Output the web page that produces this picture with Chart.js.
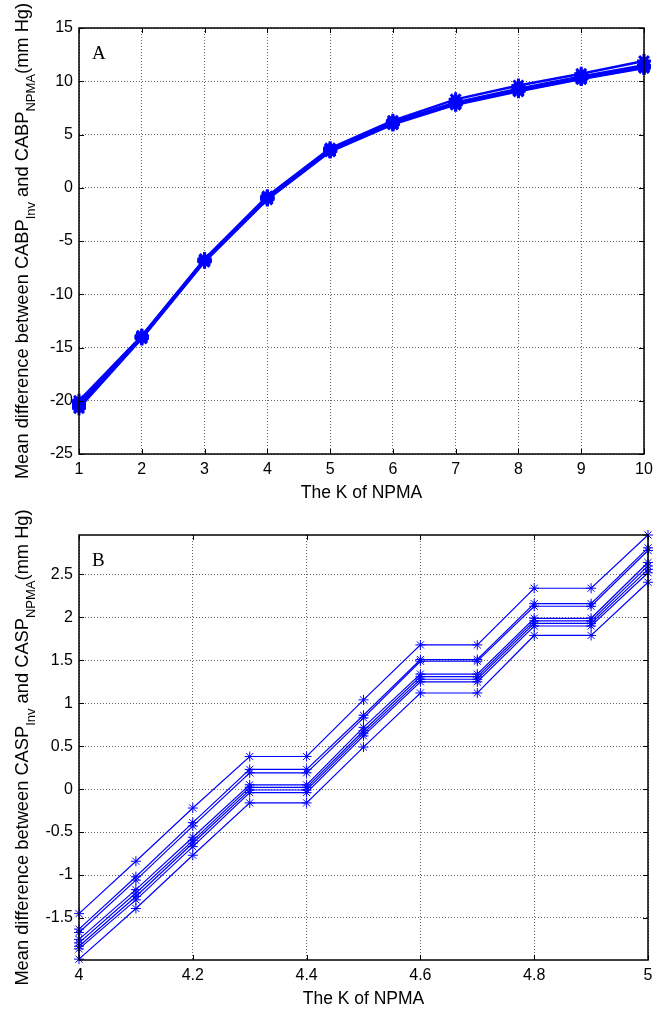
<!DOCTYPE html>
<html>
<head>
<meta charset="utf-8">
<script src="https://cdn.jsdelivr.net/npm/chart.js@4/dist/chart.umd.min.js"></script>
<style>
  body { margin: 0; background: #fff; }
  .box { position: absolute; left: 0; width: 654px; }
</style>
</head>
<body>
<div class="box" style="top:0;height:507px"><canvas id="chartA" width="654" height="507"></canvas></div>
<div class="box" style="top:507px;height:506px"><canvas id="chartB" width="654" height="506"></canvas></div>
<script>
// panel A: K = 1..10
const kA = [1, 2, 3, 4, 5, 6, 7, 8, 9, 10];
const seriesA = [
  [-20.0, -13.9, -6.7, -0.8, 3.7, 6.3, 8.3, 9.6, 10.7, 11.9],
  [-20.2, -13.95, -6.75, -0.9, 3.6, 6.15, 8.0, 9.3, 10.45, 11.5],
  [-20.3, -14.0, -6.8, -0.95, 3.55, 6.1, 7.95, 9.2, 10.35, 11.4],
  [-20.4, -14.05, -6.85, -1.0, 3.5, 6.05, 7.9, 9.15, 10.3, 11.35],
  [-20.5, -14.1, -6.9, -1.05, 3.45, 6.0, 7.85, 9.1, 10.25, 11.3],
  [-20.7, -14.15, -6.95, -1.1, 3.4, 5.95, 7.8, 9.05, 10.2, 11.25]
];
const ticksA = { xMin: 1, xMax: 10, xStep: 1, yMin: -25, yMax: 15, yStep: 5 };

// panel B: K = 4..5
const kB = [4, 4.1, 4.2, 4.3, 4.4, 4.5, 4.6, 4.7, 4.8, 4.9, 5];
const seriesB = [
  [-1.45, -0.84, -0.22, 0.38, 0.38, 1.04, 1.68, 1.68, 2.34, 2.34, 2.96],
  [-1.63, -1.02, -0.39, 0.23, 0.23, 0.86, 1.51, 1.51, 2.16, 2.16, 2.81],
  [-1.67, -1.06, -0.43, 0.19, 0.19, 0.83, 1.49, 1.49, 2.13, 2.13, 2.78],
  [-1.75, -1.17, -0.56, 0.05, 0.05, 0.72, 1.34, 1.34, 1.99, 1.99, 2.64],
  [-1.79, -1.21, -0.60, 0.02, 0.02, 0.68, 1.31, 1.31, 1.96, 1.96, 2.60],
  [-1.83, -1.25, -0.63, -0.01, -0.01, 0.65, 1.28, 1.28, 1.93, 1.93, 2.56],
  [-1.86, -1.29, -0.67, -0.04, -0.04, 0.62, 1.25, 1.25, 1.90, 1.90, 2.52],
  [-1.98, -1.39, -0.77, -0.16, -0.16, 0.49, 1.12, 1.12, 1.79, 1.79, 2.41]
];
const ticksB = { xMin: 4, xMax: 5, xStep: 0.2, yMin: -1.99, yMax: 2.96, yStep: 0.5 };

const FONT = '"Liberation Sans", Arial, sans-serif';
const fmt = v => String(Number(v.toFixed(2)));

// box, inward ticks, panel letter and axis titles (with subscripts)
const framePlugin = {
  id: 'frame',
  afterDraw(chart, args, opts) {
    const ctx = chart.ctx;
    const a = chart.chartArea;
    const xs = chart.scales.x, ys = chart.scales.y;
    ctx.save();
    ctx.strokeStyle = '#000';
    ctx.lineWidth = 1;
    ctx.beginPath();
    xs.ticks.forEach(t => {
      const px = Math.round(xs.getPixelForValue(t.value)) + 0.5;
      ctx.moveTo(px, a.bottom); ctx.lineTo(px, a.bottom - 5);
      ctx.moveTo(px, a.top); ctx.lineTo(px, a.top + 5);
    });
    ys.ticks.forEach(t => {
      const py = Math.round(ys.getPixelForValue(t.value)) + 0.5;
      ctx.moveTo(a.left, py); ctx.lineTo(a.left + 5, py);
      ctx.moveTo(a.right, py); ctx.lineTo(a.right - 5, py);
    });
    ctx.stroke();
    ctx.lineWidth = 1.5;
    ctx.strokeRect(a.left, a.top, a.right - a.left, a.bottom - a.top);

    ctx.fillStyle = '#000';
    ctx.font = '19px "Liberation Serif", "Times New Roman", serif';
    ctx.textAlign = 'left';
    ctx.textBaseline = 'alphabetic';
    ctx.fillText(opts.letter, a.left + 13, a.top + 31);

    // x title
    ctx.font = '17.5px ' + FONT;
    ctx.textAlign = 'center';
    ctx.fillText(opts.xTitle, (a.left + a.right) / 2, a.bottom + 44);

    // y title, rotated, with subscripts
    const big = '18.3px ' + FONT, small = '13px ' + FONT;
    let total = 0;
    const parts = opts.yTitle.map(p => {
      ctx.font = p.sub ? small : big;
      const w = ctx.measureText(p.t).width;
      total += w;
      return { t: p.t, sub: p.sub, w };
    });
    ctx.translate(28, (a.top + a.bottom) / 2);
    ctx.rotate(-Math.PI / 2);
    ctx.textAlign = 'left';
    let x = -total / 2;
    parts.forEach(p => {
      ctx.font = p.sub ? small : big;
      ctx.fillText(p.t, x, p.sub ? 7 : 0);
      x += p.w;
    });
    ctx.restore();
  }
};

function makeChart(id, k, series, tk, style, frame, padRight) {
  const datasets = series.map(vals => ({
    data: k.map((v, i) => ({ x: v, y: vals[i] })),
    borderColor: '#0000ff',
    backgroundColor: '#0000ff',
    borderWidth: style.line,
    pointStyle: 'star',
    pointRadius: style.radius,
    pointBorderWidth: style.marker,
    pointBorderColor: '#0000ff',
    tension: 0,
    clip: false
  }));
  const grid = { color: '#666', lineWidth: 1, drawTicks: false };
  const border = { display: false, dash: [1, 2] };
  return new Chart(document.getElementById(id), {
    type: 'line',
    data: { datasets },
    options: {
      responsive: false,
      animation: false,
      layout: { padding: { left: 0, top: 28, right: padRight, bottom: 0 } },
      plugins: { legend: { display: false }, tooltip: { enabled: false }, frame },
      scales: {
        x: {
          type: 'linear', min: tk.xMin, max: tk.xMax,
          ticks: { stepSize: tk.xStep, color: '#000', font: { family: FONT, size: 16 }, padding: 6, maxRotation: 0, includeBounds: false, callback: fmt },
          grid, border,
          afterFit: s => { s.height = 53; s.paddingLeft = 0; s.paddingRight = 0; }
        },
        y: {
          min: tk.yMin, max: tk.yMax,
          ticks: { stepSize: tk.yStep, color: '#000', font: { family: FONT, size: 16 }, padding: 6, includeBounds: false, callback: fmt },
          grid, border,
          afterFit: s => { s.width = 79; }
        }
      }
    },
    plugins: [framePlugin]
  });
}

makeChart('chartA', kA, seriesA, ticksA, { line: 2.5, radius: 7, marker: 3 }, {
  letter: 'A',
  xTitle: 'The K of NPMA',
  yTitle: [{ t: 'Mean difference between CABP' }, { t: 'Inv', sub: true }, { t: ' and CABP' }, { t: 'NPMA', sub: true }, { t: '(mm Hg)' }]
}, 9);

makeChart('chartB', kB, seriesB, ticksB, { line: 1.2, radius: 5, marker: 1 }, {
  letter: 'B',
  xTitle: 'The K of NPMA',
  yTitle: [{ t: 'Mean difference between CASP' }, { t: 'Inv', sub: true }, { t: ' and CASP' }, { t: 'NPMA', sub: true }, { t: '(mm Hg)' }]
}, 4);
</script>
</body>
</html>
